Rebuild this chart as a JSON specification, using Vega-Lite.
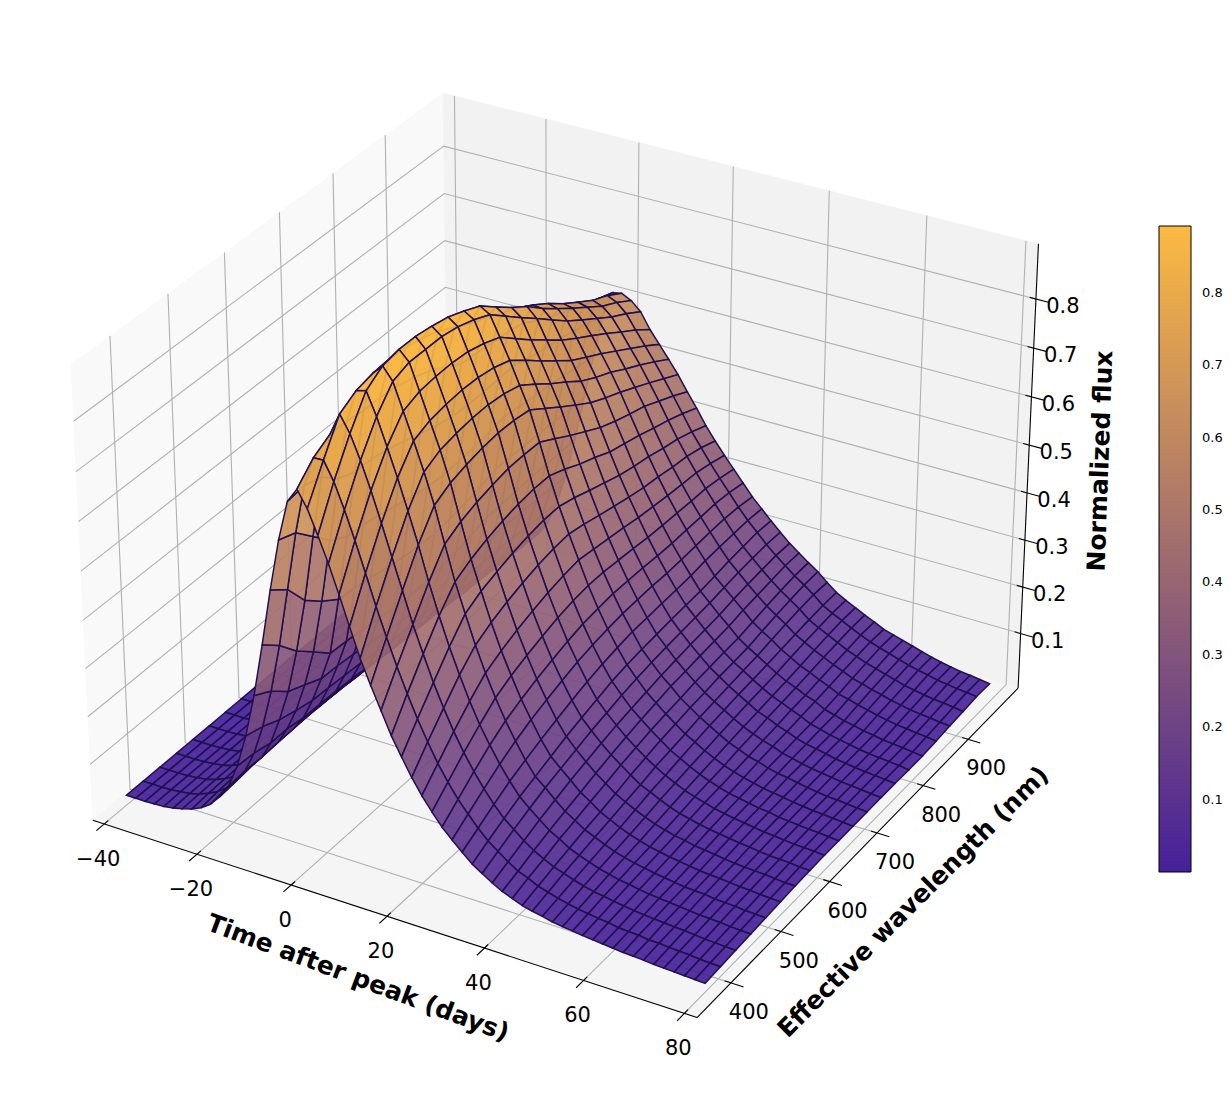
{
"$schema":"https://vega.github.io/schema/vega-lite/v6.json",
"width":1231,"height":1098,"padding":0,
"autosize":{"type":"fit","contains":"padding"},
"background":"white",
"config":{"view":{"stroke":null},"font":"DejaVu Sans"},
"datasets":{
"flux":[
{"t":-40,"374":0.002,"404":0.002,"434":0.002,"464":0.002,"494":0.002,"524":0.002,"554":0.002,"584":0.002,"614":0.002,"644":0.002,"674":0.002,"704":0.001,"734":0.001,"764":0.001,"794":0.001,"824":0.001,"854":0.001,"884":0.001,"914":0.001,"944":0.001,"974":0.001},
{"t":-37.97,"374":0.002,"404":0.002,"434":0.002,"464":0.002,"494":0.002,"524":0.002,"554":0.002,"584":0.002,"614":0.002,"644":0.002,"674":0.002,"704":0.001,"734":0.001,"764":0.001,"794":0.001,"824":0.001,"854":0.001,"884":0.001,"914":0.001,"944":0.001,"974":0.001},
{"t":-35.93,"374":0.002,"404":0.002,"434":0.002,"464":0.002,"494":0.002,"524":0.002,"554":0.002,"584":0.002,"614":0.002,"644":0.002,"674":0.002,"704":0.002,"734":0.002,"764":0.002,"794":0.002,"824":0.001,"854":0.001,"884":0.001,"914":0.001,"944":0.001,"974":0.001},
{"t":-33.9,"374":0.003,"404":0.003,"434":0.003,"464":0.003,"494":0.003,"524":0.003,"554":0.003,"584":0.003,"614":0.003,"644":0.003,"674":0.003,"704":0.002,"734":0.002,"764":0.002,"794":0.002,"824":0.002,"854":0.002,"884":0.002,"914":0.001,"944":0.001,"974":0.001},
{"t":-31.86,"374":0.004,"404":0.005,"434":0.005,"464":0.005,"494":0.005,"524":0.005,"554":0.005,"584":0.005,"614":0.005,"644":0.004,"674":0.004,"704":0.004,"734":0.004,"764":0.004,"794":0.004,"824":0.003,"854":0.003,"884":0.003,"914":0.003,"944":0.003,"974":0.002},
{"t":-29.83,"374":0.007,"404":0.008,"434":0.008,"464":0.008,"494":0.008,"524":0.008,"554":0.008,"584":0.007,"614":0.007,"644":0.007,"674":0.007,"704":0.006,"734":0.006,"764":0.006,"794":0.005,"824":0.005,"854":0.005,"884":0.004,"914":0.004,"944":0.004,"974":0.004},
{"t":-27.8,"374":0.012,"404":0.013,"434":0.014,"464":0.014,"494":0.014,"524":0.014,"554":0.013,"584":0.013,"614":0.012,"644":0.012,"674":0.011,"704":0.011,"734":0.01,"764":0.01,"794":0.009,"824":0.009,"854":0.008,"884":0.008,"914":0.007,"944":0.007,"974":0.006},
{"t":-25.76,"374":0.018,"404":0.021,"434":0.022,"464":0.023,"494":0.023,"524":0.023,"554":0.022,"584":0.021,"614":0.021,"644":0.02,"674":0.019,"704":0.018,"734":0.017,"764":0.016,"794":0.015,"824":0.015,"854":0.014,"884":0.013,"914":0.012,"944":0.011,"974":0.01},
{"t":-23.73,"374":0.027,"404":0.031,"434":0.033,"464":0.035,"494":0.036,"524":0.036,"554":0.035,"584":0.034,"614":0.033,"644":0.032,"674":0.031,"704":0.029,"734":0.028,"764":0.026,"794":0.025,"824":0.023,"854":0.022,"884":0.021,"914":0.02,"944":0.018,"974":0.017},
{"t":-21.69,"374":0.041,"404":0.046,"434":0.05,"464":0.053,"494":0.054,"524":0.055,"554":0.054,"584":0.053,"614":0.051,"644":0.05,"674":0.047,"704":0.045,"734":0.043,"764":0.041,"794":0.039,"824":0.037,"854":0.035,"884":0.033,"914":0.031,"944":0.029,"974":0.027},
{"t":-19.66,"374":0.063,"404":0.066,"434":0.07,"464":0.072,"494":0.073,"524":0.074,"554":0.073,"584":0.072,"614":0.07,"644":0.068,"674":0.065,"704":0.062,"734":0.061,"764":0.058,"794":0.056,"824":0.054,"854":0.051,"884":0.048,"914":0.046,"944":0.044,"974":0.042},
{"t":-17.63,"374":0.092,"404":0.095,"434":0.093,"464":0.095,"494":0.096,"524":0.097,"554":0.096,"584":0.094,"614":0.091,"644":0.089,"674":0.085,"704":0.083,"734":0.082,"764":0.081,"794":0.078,"824":0.074,"854":0.074,"884":0.072,"914":0.069,"944":0.065,"974":0.063},
{"t":-15.59,"374":0.141,"404":0.138,"434":0.13,"464":0.13,"494":0.124,"524":0.123,"554":0.121,"584":0.119,"614":0.115,"644":0.112,"674":0.11,"704":0.11,"734":0.11,"764":0.11,"794":0.11,"824":0.107,"854":0.105,"884":0.102,"914":0.099,"944":0.095,"974":0.092},
{"t":-13.56,"374":0.21,"404":0.2,"434":0.185,"464":0.175,"494":0.167,"524":0.165,"554":0.162,"584":0.159,"614":0.154,"644":0.149,"674":0.147,"704":0.147,"734":0.148,"764":0.15,"794":0.151,"824":0.151,"854":0.15,"884":0.148,"914":0.146,"944":0.143,"974":0.141},
{"t":-11.53,"374":0.3,"404":0.28,"434":0.25,"464":0.235,"494":0.219,"524":0.217,"554":0.213,"584":0.207,"614":0.202,"644":0.197,"674":0.195,"704":0.197,"734":0.2,"764":0.204,"794":0.21,"824":0.211,"854":0.211,"884":0.211,"914":0.21,"944":0.208,"974":0.206},
{"t":-9.49,"374":0.41,"404":0.38,"434":0.34,"464":0.31,"494":0.278,"524":0.275,"554":0.271,"584":0.265,"614":0.26,"644":0.258,"674":0.258,"704":0.262,"734":0.268,"764":0.276,"794":0.285,"824":0.287,"854":0.289,"884":0.291,"914":0.291,"944":0.292,"974":0.292},
{"t":-7.46,"374":0.527,"404":0.5,"434":0.45,"464":0.42,"494":0.396,"524":0.392,"554":0.386,"584":0.378,"614":0.372,"644":0.368,"674":0.366,"704":0.37,"734":0.376,"764":0.384,"794":0.394,"824":0.394,"854":0.393,"884":0.393,"914":0.391,"944":0.389,"974":0.387},
{"t":-5.42,"374":0.633,"404":0.62,"434":0.585,"464":0.55,"494":0.53,"524":0.527,"554":0.52,"584":0.511,"614":0.503,"644":0.497,"674":0.494,"704":0.496,"734":0.5,"764":0.505,"794":0.511,"824":0.506,"854":0.502,"884":0.499,"914":0.494,"944":0.488,"974":0.482},
{"t":-3.39,"374":0.715,"404":0.72,"434":0.71,"464":0.68,"494":0.667,"524":0.666,"554":0.659,"584":0.649,"614":0.638,"644":0.628,"674":0.62,"704":0.618,"734":0.618,"764":0.62,"794":0.622,"824":0.612,"854":0.605,"884":0.601,"914":0.592,"944":0.584,"974":0.574},
{"t":-1.36,"374":0.745,"404":0.78,"434":0.8,"464":0.8,"494":0.795,"524":0.795,"554":0.79,"584":0.782,"614":0.77,"644":0.753,"674":0.733,"704":0.73,"734":0.726,"764":0.722,"794":0.715,"824":0.695,"854":0.68,"884":0.665,"914":0.65,"944":0.64,"974":0.628},
{"t":0.68,"374":0.712,"404":0.781,"434":0.845,"464":0.865,"494":0.873,"524":0.876,"554":0.873,"584":0.866,"614":0.855,"644":0.838,"674":0.82,"704":0.806,"734":0.79,"764":0.776,"794":0.757,"824":0.735,"854":0.71,"884":0.688,"914":0.667,"944":0.652,"974":0.632},
{"t":2.71,"374":0.665,"404":0.744,"434":0.812,"464":0.87,"494":0.893,"524":0.9,"554":0.9,"584":0.895,"614":0.888,"644":0.875,"674":0.86,"704":0.833,"734":0.807,"764":0.784,"794":0.755,"824":0.73,"854":0.706,"884":0.683,"914":0.66,"944":0.643,"974":0.622},
{"t":4.75,"374":0.615,"404":0.694,"434":0.765,"464":0.825,"494":0.868,"524":0.88,"554":0.88,"584":0.88,"614":0.874,"644":0.863,"674":0.848,"704":0.82,"734":0.792,"764":0.765,"794":0.737,"824":0.71,"854":0.687,"884":0.665,"914":0.643,"944":0.625,"974":0.604},
{"t":6.78,"374":0.559,"404":0.639,"434":0.711,"464":0.771,"494":0.815,"524":0.828,"554":0.832,"584":0.833,"614":0.83,"644":0.821,"674":0.808,"704":0.78,"734":0.752,"764":0.727,"794":0.701,"824":0.68,"854":0.66,"884":0.639,"914":0.617,"944":0.596,"974":0.572},
{"t":8.81,"374":0.501,"404":0.58,"434":0.652,"464":0.715,"494":0.762,"524":0.776,"554":0.782,"584":0.785,"614":0.784,"644":0.778,"674":0.767,"704":0.742,"734":0.715,"764":0.69,"794":0.665,"824":0.646,"854":0.628,"884":0.608,"914":0.588,"944":0.568,"974":0.546},
{"t":10.85,"374":0.443,"404":0.519,"434":0.59,"464":0.655,"494":0.706,"524":0.723,"554":0.73,"584":0.734,"614":0.735,"644":0.731,"674":0.722,"704":0.699,"734":0.674,"764":0.652,"794":0.628,"824":0.61,"854":0.595,"884":0.576,"914":0.559,"944":0.54,"974":0.52},
{"t":12.88,"374":0.395,"404":0.463,"434":0.529,"464":0.593,"494":0.645,"524":0.663,"554":0.673,"584":0.68,"614":0.684,"644":0.683,"674":0.678,"704":0.655,"734":0.632,"764":0.61,"794":0.589,"824":0.573,"854":0.559,"884":0.543,"914":0.527,"944":0.51,"974":0.493},
{"t":14.92,"374":0.35,"404":0.41,"434":0.467,"464":0.524,"494":0.573,"524":0.591,"554":0.603,"584":0.611,"614":0.618,"644":0.619,"674":0.618,"704":0.599,"734":0.579,"764":0.561,"794":0.543,"824":0.53,"854":0.519,"884":0.509,"914":0.494,"944":0.479,"974":0.462},
{"t":16.95,"374":0.305,"404":0.361,"434":0.413,"464":0.462,"494":0.503,"524":0.521,"554":0.534,"584":0.544,"614":0.551,"644":0.555,"674":0.555,"704":0.542,"734":0.526,"764":0.513,"794":0.498,"824":0.489,"854":0.48,"884":0.469,"914":0.459,"944":0.447,"974":0.433},
{"t":18.98,"374":0.268,"404":0.316,"434":0.361,"464":0.405,"494":0.444,"524":0.462,"554":0.474,"584":0.484,"614":0.492,"644":0.497,"674":0.498,"704":0.489,"734":0.477,"764":0.466,"794":0.455,"824":0.447,"854":0.441,"884":0.432,"914":0.425,"944":0.414,"974":0.401},
{"t":21.02,"374":0.232,"404":0.275,"434":0.315,"464":0.354,"494":0.386,"524":0.404,"554":0.418,"584":0.429,"614":0.438,"644":0.444,"674":0.447,"704":0.44,"734":0.431,"764":0.423,"794":0.415,"824":0.408,"854":0.404,"884":0.398,"914":0.394,"944":0.386,"974":0.374},
{"t":23.05,"374":0.201,"404":0.237,"434":0.273,"464":0.306,"494":0.335,"524":0.352,"554":0.366,"584":0.377,"614":0.387,"644":0.394,"674":0.399,"704":0.394,"734":0.389,"764":0.384,"794":0.378,"824":0.374,"854":0.37,"884":0.367,"914":0.365,"944":0.358,"974":0.349},
{"t":25.08,"374":0.174,"404":0.205,"434":0.236,"464":0.264,"494":0.29,"524":0.307,"554":0.32,"584":0.331,"614":0.341,"644":0.348,"674":0.352,"704":0.352,"734":0.349,"764":0.346,"794":0.342,"824":0.34,"854":0.339,"884":0.337,"914":0.337,"944":0.332,"974":0.325},
{"t":27.12,"374":0.149,"404":0.176,"434":0.203,"464":0.228,"494":0.249,"524":0.264,"554":0.277,"584":0.288,"614":0.298,"644":0.306,"674":0.31,"704":0.313,"734":0.312,"764":0.311,"794":0.309,"824":0.308,"854":0.309,"884":0.309,"914":0.31,"944":0.307,"974":0.301},
{"t":29.15,"374":0.129,"404":0.152,"434":0.174,"464":0.195,"494":0.213,"524":0.228,"554":0.24,"584":0.251,"614":0.261,"644":0.268,"674":0.273,"704":0.277,"734":0.278,"764":0.279,"794":0.278,"824":0.279,"854":0.281,"884":0.283,"914":0.284,"944":0.282,"974":0.277},
{"t":31.19,"374":0.11,"404":0.129,"434":0.148,"464":0.166,"494":0.18,"524":0.193,"554":0.205,"584":0.216,"614":0.226,"644":0.234,"674":0.24,"704":0.245,"734":0.246,"764":0.248,"794":0.249,"824":0.251,"854":0.255,"884":0.257,"914":0.258,"944":0.259,"974":0.257},
{"t":33.22,"374":0.092,"404":0.109,"434":0.125,"464":0.14,"494":0.152,"524":0.164,"554":0.176,"584":0.186,"614":0.195,"644":0.204,"674":0.21,"704":0.214,"734":0.217,"764":0.22,"794":0.222,"824":0.224,"854":0.228,"884":0.233,"914":0.236,"944":0.239,"974":0.237},
{"t":35.25,"374":0.079,"404":0.094,"434":0.109,"464":0.122,"494":0.135,"524":0.145,"554":0.155,"584":0.165,"614":0.173,"644":0.181,"674":0.187,"704":0.192,"734":0.196,"764":0.199,"794":0.202,"824":0.205,"854":0.21,"884":0.214,"914":0.217,"944":0.219,"974":0.218},
{"t":37.29,"374":0.066,"404":0.079,"434":0.092,"464":0.105,"494":0.116,"524":0.127,"554":0.136,"584":0.145,"614":0.153,"644":0.159,"674":0.165,"704":0.171,"734":0.175,"764":0.179,"794":0.182,"824":0.185,"854":0.191,"884":0.195,"914":0.198,"944":0.201,"974":0.2},
{"t":39.32,"374":0.055,"404":0.066,"434":0.078,"464":0.089,"494":0.099,"524":0.108,"554":0.118,"584":0.127,"614":0.135,"644":0.142,"674":0.148,"704":0.154,"734":0.157,"764":0.161,"794":0.164,"824":0.167,"854":0.173,"884":0.177,"914":0.181,"944":0.185,"974":0.185},
{"t":41.36,"374":0.047,"404":0.058,"434":0.067,"464":0.078,"494":0.086,"524":0.095,"554":0.103,"584":0.112,"614":0.119,"644":0.126,"674":0.131,"704":0.135,"734":0.14,"764":0.143,"794":0.146,"824":0.148,"854":0.154,"884":0.16,"914":0.165,"944":0.169,"974":0.17},
{"t":43.39,"374":0.039,"404":0.048,"434":0.057,"464":0.065,"494":0.073,"524":0.08,"554":0.088,"584":0.097,"614":0.104,"644":0.111,"674":0.116,"704":0.121,"734":0.124,"764":0.129,"794":0.131,"824":0.134,"854":0.14,"884":0.146,"914":0.151,"944":0.155,"974":0.156},
{"t":45.42,"374":0.034,"404":0.042,"434":0.05,"464":0.057,"494":0.064,"524":0.07,"554":0.077,"584":0.083,"614":0.091,"644":0.096,"674":0.101,"704":0.107,"734":0.111,"764":0.115,"794":0.119,"824":0.122,"854":0.128,"884":0.133,"914":0.137,"944":0.14,"974":0.139},
{"t":47.46,"374":0.03,"404":0.036,"434":0.043,"464":0.049,"494":0.055,"524":0.06,"554":0.067,"584":0.074,"614":0.079,"644":0.085,"674":0.09,"704":0.095,"734":0.099,"764":0.103,"794":0.106,"824":0.109,"854":0.113,"884":0.117,"914":0.12,"944":0.123,"974":0.123},
{"t":49.49,"374":0.025,"404":0.031,"434":0.037,"464":0.042,"494":0.047,"524":0.052,"554":0.058,"584":0.064,"614":0.069,"644":0.074,"674":0.078,"704":0.083,"734":0.087,"764":0.091,"794":0.094,"824":0.097,"854":0.102,"884":0.106,"914":0.109,"944":0.112,"974":0.112},
{"t":51.53,"374":0.022,"404":0.027,"434":0.032,"464":0.037,"494":0.041,"524":0.045,"554":0.05,"584":0.055,"614":0.06,"644":0.064,"674":0.068,"704":0.072,"734":0.076,"764":0.079,"794":0.083,"824":0.086,"854":0.09,"884":0.095,"914":0.099,"944":0.102,"974":0.102},
{"t":53.56,"374":0.02,"404":0.024,"434":0.029,"464":0.032,"494":0.036,"524":0.039,"554":0.044,"584":0.048,"614":0.053,"644":0.056,"674":0.059,"704":0.064,"734":0.067,"764":0.072,"794":0.075,"824":0.078,"854":0.082,"884":0.086,"914":0.089,"944":0.092,"974":0.092},
{"t":55.59,"374":0.017,"404":0.021,"434":0.025,"464":0.029,"494":0.032,"524":0.035,"554":0.038,"584":0.043,"614":0.047,"644":0.049,"674":0.052,"704":0.055,"734":0.059,"764":0.062,"794":0.066,"824":0.068,"854":0.072,"884":0.076,"914":0.079,"944":0.083,"974":0.083},
{"t":57.63,"374":0.015,"404":0.019,"434":0.022,"464":0.025,"494":0.028,"524":0.031,"554":0.035,"584":0.038,"614":0.041,"644":0.043,"674":0.046,"704":0.05,"734":0.053,"764":0.055,"794":0.058,"824":0.061,"854":0.064,"884":0.068,"914":0.071,"944":0.074,"974":0.073},
{"t":59.66,"374":0.013,"404":0.015,"434":0.019,"464":0.022,"494":0.025,"524":0.028,"554":0.03,"584":0.034,"614":0.037,"644":0.039,"674":0.041,"704":0.043,"734":0.045,"764":0.047,"794":0.048,"824":0.05,"854":0.054,"884":0.059,"914":0.063,"944":0.067,"974":0.067},
{"t":61.69,"374":0.011,"404":0.014,"434":0.017,"464":0.02,"494":0.022,"524":0.025,"554":0.028,"584":0.031,"614":0.033,"644":0.035,"674":0.036,"704":0.038,"734":0.04,"764":0.041,"794":0.043,"824":0.044,"854":0.049,"884":0.053,"914":0.057,"944":0.061,"974":0.061},
{"t":63.73,"374":0.009,"404":0.013,"434":0.015,"464":0.018,"494":0.019,"524":0.022,"554":0.025,"584":0.028,"614":0.03,"644":0.031,"674":0.033,"704":0.035,"734":0.035,"764":0.037,"794":0.037,"824":0.038,"854":0.043,"884":0.047,"914":0.051,"944":0.054,"974":0.055},
{"t":65.76,"374":0.008,"404":0.01,"434":0.014,"464":0.016,"494":0.018,"524":0.02,"554":0.022,"584":0.025,"614":0.027,"644":0.029,"674":0.03,"704":0.031,"734":0.031,"764":0.033,"794":0.033,"824":0.034,"854":0.038,"884":0.042,"914":0.045,"944":0.048,"974":0.049},
{"t":67.8,"374":0.007,"404":0.01,"434":0.012,"464":0.014,"494":0.017,"524":0.019,"554":0.02,"584":0.023,"614":0.024,"644":0.025,"674":0.026,"704":0.027,"734":0.028,"764":0.028,"794":0.029,"824":0.029,"854":0.033,"884":0.036,"914":0.039,"944":0.043,"974":0.043},
{"t":69.83,"374":0.005,"404":0.008,"434":0.011,"464":0.012,"494":0.014,"524":0.017,"554":0.018,"584":0.02,"614":0.022,"644":0.023,"674":0.024,"704":0.024,"734":0.025,"764":0.025,"794":0.025,"824":0.026,"854":0.029,"884":0.032,"914":0.035,"944":0.039,"974":0.038},
{"t":71.86,"374":0.004,"404":0.007,"434":0.009,"464":0.011,"494":0.013,"524":0.015,"554":0.017,"584":0.018,"614":0.02,"644":0.021,"674":0.021,"704":0.021,"734":0.022,"764":0.022,"794":0.022,"824":0.022,"854":0.025,"884":0.028,"914":0.031,"944":0.034,"974":0.034},
{"t":73.9,"374":0.003,"404":0.006,"434":0.007,"464":0.01,"494":0.012,"524":0.014,"554":0.016,"584":0.017,"614":0.018,"644":0.019,"674":0.02,"704":0.02,"734":0.02,"764":0.02,"794":0.02,"824":0.02,"854":0.023,"884":0.025,"914":0.028,"944":0.031,"974":0.03},
{"t":75.93,"374":0.002,"404":0.004,"434":0.006,"464":0.008,"494":0.01,"524":0.012,"554":0.014,"584":0.016,"614":0.017,"644":0.018,"674":0.018,"704":0.018,"734":0.018,"764":0.018,"794":0.018,"824":0.018,"854":0.02,"884":0.023,"914":0.026,"944":0.028,"974":0.028},
{"t":77.97,"374":0.001,"404":0.003,"434":0.005,"464":0.007,"494":0.009,"524":0.011,"554":0.012,"584":0.014,"614":0.016,"644":0.016,"674":0.016,"704":0.016,"734":0.016,"764":0.016,"794":0.016,"824":0.015,"854":0.018,"884":0.02,"914":0.023,"944":0.026,"974":0.025},
{"t":80,"374":0,"404":0.002,"434":0.004,"464":0.006,"494":0.008,"524":0.01,"554":0.012,"584":0.013,"614":0.014,"644":0.014,"674":0.014,"704":0.014,"734":0.014,"764":0.014,"794":0.013,"824":0.013,"854":0.015,"884":0.018,"914":0.02,"944":0.023,"974":0.022}
],
"frame":[
{"k":"paneX","o":0,"t":-42.5,"w":334,"z":-0.0186},{"k":"paneX","o":1,"t":-42.5,"w":1014,"z":-0.0186},{"k":"paneX","o":2,"t":-42.5,"w":1014,"z":0.911},{"k":"paneX","o":3,"t":-42.5,"w":334,"z":0.911},
{"k":"paneY","o":0,"t":-42.5,"w":1014,"z":-0.0186},{"k":"paneY","o":1,"t":82.5,"w":1014,"z":-0.0186},{"k":"paneY","o":2,"t":82.5,"w":1014,"z":0.911},{"k":"paneY","o":3,"t":-42.5,"w":1014,"z":0.911},
{"k":"paneZ","o":0,"t":-42.5,"w":334,"z":-0.0186},{"k":"paneZ","o":1,"t":82.5,"w":334,"z":-0.0186},{"k":"paneZ","o":2,"t":82.5,"w":1014,"z":-0.0186},{"k":"paneZ","o":3,"t":-42.5,"w":1014,"z":-0.0186},
{"k":"grid","g":"t1","o":0,"t":-40,"w":1014,"z":0.911},{"k":"grid","g":"t1","o":1,"t":-40,"w":1014,"z":-0.0186},{"k":"grid","g":"t1","o":2,"t":-40,"w":334,"z":-0.0186},
{"k":"grid","g":"t2","o":0,"t":-20,"w":1014,"z":0.911},{"k":"grid","g":"t2","o":1,"t":-20,"w":1014,"z":-0.0186},{"k":"grid","g":"t2","o":2,"t":-20,"w":334,"z":-0.0186},
{"k":"grid","g":"t3","o":0,"t":0,"w":1014,"z":0.911},{"k":"grid","g":"t3","o":1,"t":0,"w":1014,"z":-0.0186},{"k":"grid","g":"t3","o":2,"t":0,"w":334,"z":-0.0186},
{"k":"grid","g":"t4","o":0,"t":20,"w":1014,"z":0.911},{"k":"grid","g":"t4","o":1,"t":20,"w":1014,"z":-0.0186},{"k":"grid","g":"t4","o":2,"t":20,"w":334,"z":-0.0186},
{"k":"grid","g":"t5","o":0,"t":40,"w":1014,"z":0.911},{"k":"grid","g":"t5","o":1,"t":40,"w":1014,"z":-0.0186},{"k":"grid","g":"t5","o":2,"t":40,"w":334,"z":-0.0186},
{"k":"grid","g":"t6","o":0,"t":60,"w":1014,"z":0.911},{"k":"grid","g":"t6","o":1,"t":60,"w":1014,"z":-0.0186},{"k":"grid","g":"t6","o":2,"t":60,"w":334,"z":-0.0186},
{"k":"grid","g":"t7","o":0,"t":80,"w":1014,"z":0.911},{"k":"grid","g":"t7","o":1,"t":80,"w":1014,"z":-0.0186},{"k":"grid","g":"t7","o":2,"t":80,"w":334,"z":-0.0186},
{"k":"grid","g":"w1","o":0,"t":-42.5,"w":400,"z":0.911},{"k":"grid","g":"w1","o":1,"t":-42.5,"w":400,"z":-0.0186},{"k":"grid","g":"w1","o":2,"t":82.5,"w":400,"z":-0.0186},
{"k":"grid","g":"w2","o":0,"t":-42.5,"w":500,"z":0.911},{"k":"grid","g":"w2","o":1,"t":-42.5,"w":500,"z":-0.0186},{"k":"grid","g":"w2","o":2,"t":82.5,"w":500,"z":-0.0186},
{"k":"grid","g":"w3","o":0,"t":-42.5,"w":600,"z":0.911},{"k":"grid","g":"w3","o":1,"t":-42.5,"w":600,"z":-0.0186},{"k":"grid","g":"w3","o":2,"t":82.5,"w":600,"z":-0.0186},
{"k":"grid","g":"w4","o":0,"t":-42.5,"w":700,"z":0.911},{"k":"grid","g":"w4","o":1,"t":-42.5,"w":700,"z":-0.0186},{"k":"grid","g":"w4","o":2,"t":82.5,"w":700,"z":-0.0186},
{"k":"grid","g":"w5","o":0,"t":-42.5,"w":800,"z":0.911},{"k":"grid","g":"w5","o":1,"t":-42.5,"w":800,"z":-0.0186},{"k":"grid","g":"w5","o":2,"t":82.5,"w":800,"z":-0.0186},
{"k":"grid","g":"w6","o":0,"t":-42.5,"w":900,"z":0.911},{"k":"grid","g":"w6","o":1,"t":-42.5,"w":900,"z":-0.0186},{"k":"grid","g":"w6","o":2,"t":82.5,"w":900,"z":-0.0186},
{"k":"grid","g":"z1","o":0,"t":-42.5,"w":334,"z":0.1},{"k":"grid","g":"z1","o":1,"t":-42.5,"w":1014,"z":0.1},{"k":"grid","g":"z1","o":2,"t":82.5,"w":1014,"z":0.1},
{"k":"grid","g":"z2","o":0,"t":-42.5,"w":334,"z":0.2},{"k":"grid","g":"z2","o":1,"t":-42.5,"w":1014,"z":0.2},{"k":"grid","g":"z2","o":2,"t":82.5,"w":1014,"z":0.2},
{"k":"grid","g":"z3","o":0,"t":-42.5,"w":334,"z":0.3},{"k":"grid","g":"z3","o":1,"t":-42.5,"w":1014,"z":0.3},{"k":"grid","g":"z3","o":2,"t":82.5,"w":1014,"z":0.3},
{"k":"grid","g":"z4","o":0,"t":-42.5,"w":334,"z":0.4},{"k":"grid","g":"z4","o":1,"t":-42.5,"w":1014,"z":0.4},{"k":"grid","g":"z4","o":2,"t":82.5,"w":1014,"z":0.4},
{"k":"grid","g":"z5","o":0,"t":-42.5,"w":334,"z":0.5},{"k":"grid","g":"z5","o":1,"t":-42.5,"w":1014,"z":0.5},{"k":"grid","g":"z5","o":2,"t":82.5,"w":1014,"z":0.5},
{"k":"grid","g":"z6","o":0,"t":-42.5,"w":334,"z":0.6},{"k":"grid","g":"z6","o":1,"t":-42.5,"w":1014,"z":0.6},{"k":"grid","g":"z6","o":2,"t":82.5,"w":1014,"z":0.6},
{"k":"grid","g":"z7","o":0,"t":-42.5,"w":334,"z":0.7},{"k":"grid","g":"z7","o":1,"t":-42.5,"w":1014,"z":0.7},{"k":"grid","g":"z7","o":2,"t":82.5,"w":1014,"z":0.7},
{"k":"grid","g":"z8","o":0,"t":-42.5,"w":334,"z":0.8},{"k":"grid","g":"z8","o":1,"t":-42.5,"w":1014,"z":0.8},{"k":"grid","g":"z8","o":2,"t":82.5,"w":1014,"z":0.8},
{"k":"axis","g":"at","o":0,"t":-42.5,"w":334,"z":-0.0186},{"k":"axis","g":"at","o":1,"t":82.5,"w":334,"z":-0.0186},
{"k":"axis","g":"aw","o":0,"t":82.5,"w":334,"z":-0.0186},{"k":"axis","g":"aw","o":1,"t":82.5,"w":1014,"z":-0.0186},
{"k":"axis","g":"az","o":0,"t":82.5,"w":1014,"z":-0.0186},{"k":"axis","g":"az","o":1,"t":82.5,"w":1014,"z":0.911},
{"k":"axis","g":"t1","o":0,"t":-40,"w":320,"z":-0.0186},{"k":"axis","g":"t1","o":1,"t":-40,"w":341,"z":-0.0186},
{"k":"axis","g":"t2","o":0,"t":-20,"w":320,"z":-0.0186},{"k":"axis","g":"t2","o":1,"t":-20,"w":341,"z":-0.0186},
{"k":"axis","g":"t3","o":0,"t":0,"w":320,"z":-0.0186},{"k":"axis","g":"t3","o":1,"t":0,"w":341,"z":-0.0186},
{"k":"axis","g":"t4","o":0,"t":20,"w":320,"z":-0.0186},{"k":"axis","g":"t4","o":1,"t":20,"w":341,"z":-0.0186},
{"k":"axis","g":"t5","o":0,"t":40,"w":320,"z":-0.0186},{"k":"axis","g":"t5","o":1,"t":40,"w":341,"z":-0.0186},
{"k":"axis","g":"t6","o":0,"t":60,"w":320,"z":-0.0186},{"k":"axis","g":"t6","o":1,"t":60,"w":341,"z":-0.0186},
{"k":"axis","g":"t7","o":0,"t":80,"w":320,"z":-0.0186},{"k":"axis","g":"t7","o":1,"t":80,"w":341,"z":-0.0186},
{"k":"axis","g":"w1","o":0,"t":81.25,"w":400,"z":-0.0186},{"k":"axis","g":"w1","o":1,"t":85,"w":400,"z":-0.0186},
{"k":"axis","g":"w2","o":0,"t":81.25,"w":500,"z":-0.0186},{"k":"axis","g":"w2","o":1,"t":85,"w":500,"z":-0.0186},
{"k":"axis","g":"w3","o":0,"t":81.25,"w":600,"z":-0.0186},{"k":"axis","g":"w3","o":1,"t":85,"w":600,"z":-0.0186},
{"k":"axis","g":"w4","o":0,"t":81.25,"w":700,"z":-0.0186},{"k":"axis","g":"w4","o":1,"t":85,"w":700,"z":-0.0186},
{"k":"axis","g":"w5","o":0,"t":81.25,"w":800,"z":-0.0186},{"k":"axis","g":"w5","o":1,"t":85,"w":800,"z":-0.0186},
{"k":"axis","g":"w6","o":0,"t":81.25,"w":900,"z":-0.0186},{"k":"axis","g":"w6","o":1,"t":85,"w":900,"z":-0.0186},
{"k":"axis","g":"z1","o":0,"t":81.25,"w":1014,"z":0.1},{"k":"axis","g":"z1","o":1,"t":85,"w":1014,"z":0.1},
{"k":"axis","g":"z2","o":0,"t":81.25,"w":1014,"z":0.2},{"k":"axis","g":"z2","o":1,"t":85,"w":1014,"z":0.2},
{"k":"axis","g":"z3","o":0,"t":81.25,"w":1014,"z":0.3},{"k":"axis","g":"z3","o":1,"t":85,"w":1014,"z":0.3},
{"k":"axis","g":"z4","o":0,"t":81.25,"w":1014,"z":0.4},{"k":"axis","g":"z4","o":1,"t":85,"w":1014,"z":0.4},
{"k":"axis","g":"z5","o":0,"t":81.25,"w":1014,"z":0.5},{"k":"axis","g":"z5","o":1,"t":85,"w":1014,"z":0.5},
{"k":"axis","g":"z6","o":0,"t":81.25,"w":1014,"z":0.6},{"k":"axis","g":"z6","o":1,"t":85,"w":1014,"z":0.6},
{"k":"axis","g":"z7","o":0,"t":81.25,"w":1014,"z":0.7},{"k":"axis","g":"z7","o":1,"t":85,"w":1014,"z":0.7},
{"k":"axis","g":"z8","o":0,"t":81.25,"w":1014,"z":0.8},{"k":"axis","g":"z8","o":1,"t":85,"w":1014,"z":0.8},
{"k":"tlab","lab":"−40","t":-40,"w":334,"z":-0.0186},{"k":"tlab","lab":"−20","t":-20,"w":334,"z":-0.0186},{"k":"tlab","lab":"0","t":0,"w":334,"z":-0.0186},{"k":"tlab","lab":"20","t":20,"w":334,"z":-0.0186},{"k":"tlab","lab":"40","t":40,"w":334,"z":-0.0186},{"k":"tlab","lab":"60","t":60,"w":334,"z":-0.0186},{"k":"tlab","lab":"80","t":80,"w":334,"z":-0.0186},
{"k":"wlab","lab":"400","t":82.5,"w":400,"z":-0.0186},{"k":"wlab","lab":"500","t":82.5,"w":500,"z":-0.0186},{"k":"wlab","lab":"600","t":82.5,"w":600,"z":-0.0186},{"k":"wlab","lab":"700","t":82.5,"w":700,"z":-0.0186},{"k":"wlab","lab":"800","t":82.5,"w":800,"z":-0.0186},{"k":"wlab","lab":"900","t":82.5,"w":900,"z":-0.0186},
{"k":"zlab","lab":"0.1","t":82.5,"w":1014,"z":0.1},{"k":"zlab","lab":"0.2","t":82.5,"w":1014,"z":0.2},{"k":"zlab","lab":"0.3","t":82.5,"w":1014,"z":0.3},{"k":"zlab","lab":"0.4","t":82.5,"w":1014,"z":0.4},{"k":"zlab","lab":"0.5","t":82.5,"w":1014,"z":0.5},{"k":"zlab","lab":"0.6","t":82.5,"w":1014,"z":0.6},{"k":"zlab","lab":"0.7","t":82.5,"w":1014,"z":0.7},{"k":"zlab","lab":"0.8","t":82.5,"w":1014,"z":0.8},
{"k":"ttitle","lab":"Time after peak (days)","t":20,"w":334,"z":-0.0186},
{"k":"wtitle","lab":"Effective wavelength (nm)","t":82.5,"w":650,"z":-0.0186},
{"k":"ztitle","lab":"Normalized flux","t":82.5,"w":1014,"z":0.45}
]
},
"encoding":{
"x":{"field":"sx","type":"quantitative","axis":null,"scale":{"domain":[0,1231],"nice":false,"zero":false}},
"y":{"field":"sy","type":"quantitative","axis":null,"scale":{"domain":[1098,0],"nice":false,"zero":false}}
},
"layer":[
{
"data":{"name":"frame"},
"transform":[
{"calculate":"1.1905*((datum.t+42.5)/125-0.5)","as":"px"},
{"calculate":"1.1905*((datum.w-334)/680-0.5)","as":"py"},
{"calculate":"0.8929*((datum.z+0.0186)/0.9296-0.5)","as":"pz"},
{"calculate":"10-(0.433*datum.px-0.75*datum.py+0.5*datum.pz)","as":"d"},
{"calculate":"564+5815*(0.866*datum.px+0.5*datum.py)/datum.d","as":"sx"},
{"calculate":"533-5815*(-0.25*datum.px+0.433*datum.py+0.866*datum.pz)/datum.d","as":"sy"}
],
"layer":[
{"transform":[{"filter":"datum.k=='paneX'"}],"mark":{"type":"line","interpolate":"linear-closed","fill":"#f9f9f9","stroke":"#f9f9f9","strokeWidth":0.5},"encoding":{"order":{"field":"o","type":"quantitative"}}},
{"transform":[{"filter":"datum.k=='paneY'"}],"mark":{"type":"line","interpolate":"linear-closed","fill":"#f2f2f2","stroke":"#f2f2f2","strokeWidth":0.5},"encoding":{"order":{"field":"o","type":"quantitative"}}},
{"transform":[{"filter":"datum.k=='paneZ'"}],"mark":{"type":"line","interpolate":"linear-closed","fill":"#f5f5f5","stroke":"#f5f5f5","strokeWidth":0.5},"encoding":{"order":{"field":"o","type":"quantitative"}}},
{"transform":[{"filter":"datum.k=='grid'"}],"mark":{"type":"line","stroke":"#b0b0b0","strokeWidth":1.1},"encoding":{"detail":{"field":"g"},"order":{"field":"o","type":"quantitative"}}},
{"transform":[{"filter":"datum.k=='axis'"}],"mark":{"type":"line","stroke":"#000000","strokeWidth":1.1},"encoding":{"detail":{"field":"g"},"order":{"field":"o","type":"quantitative"}}},
{"transform":[{"filter":"datum.k=='tlab'"}],"mark":{"type":"text","fontSize":21,"color":"#000000","dx":-6,"dy":36,"align":"center","baseline":"middle"},"encoding":{"text":{"field":"lab"}}},
{"transform":[{"filter":"datum.k=='wlab'"}],"mark":{"type":"text","fontSize":21,"color":"#000000","dx":18,"dy":30,"align":"center","baseline":"middle"},"encoding":{"text":{"field":"lab"}}},
{"transform":[{"filter":"datum.k=='zlab'"}],"mark":{"type":"text","fontSize":21,"color":"#000000","dx":27,"dy":8,"align":"center","baseline":"middle"},"encoding":{"text":{"field":"lab"}}},
{"transform":[{"filter":"datum.k=='ttitle'"}],"mark":{"type":"text","fontSize":25,"fontWeight":"bold","color":"#000000","angle":20.5,"dx":-5.5,"dy":68,"align":"center","baseline":"middle"},"encoding":{"text":{"field":"lab"}}},
{"transform":[{"filter":"datum.k=='wtitle'"}],"mark":{"type":"text","fontSize":25,"fontWeight":"bold","color":"#000000","angle":-45,"dx":10.6,"dy":74,"align":"center","baseline":"middle"},"encoding":{"text":{"field":"lab"}}},
{"transform":[{"filter":"datum.k=='ztitle'"}],"mark":{"type":"text","fontSize":25,"fontWeight":"bold","color":"#000000","angle":-88,"dx":10.5,"dy":72,"align":"center","baseline":"middle"},"encoding":{"text":{"field":"lab"}}}
]
},
{
"data":{"name":"flux"},
"transform":[
{"fold":["974","944","914","884","854","824","794","764","734","704","674","644","614","584","554","524","494","464","434","404","374"]},
{"calculate":"toNumber(datum.key)","as":"w"},
{"calculate":"datum.value","as":"z"},
{"window":[{"op":"dense_rank","as":"i"}],"sort":[{"field":"t","order":"ascending"}]},
{"window":[{"op":"dense_rank","as":"j"}],"sort":[{"field":"w","order":"descending"}]},
{"calculate":"[0,1,2,3]","as":"c"},
{"flatten":["c"]},
{"calculate":"datum.i-((datum.c==1||datum.c==2)?1:0)","as":"a"},
{"calculate":"datum.j-(datum.c>=2?1:0)","as":"b"},
{"filter":"datum.a>=1&&datum.b>=1&&datum.a<60&&datum.b<21"},
{"calculate":"datum.a*100+datum.b","as":"cell"},
{"joinaggregate":[{"op":"mean","field":"z","as":"level"}],"groupby":["cell"]},
{"calculate":"1.1905*((datum.t+42.5)/125-0.5)","as":"px"},
{"calculate":"1.1905*((datum.w-334)/680-0.5)","as":"py"},
{"calculate":"0.8929*((datum.z+0.0186)/0.9296-0.5)","as":"pz"},
{"calculate":"10-(0.433*datum.px-0.75*datum.py+0.5*datum.pz)","as":"d"},
{"calculate":"564+5815*(0.866*datum.px+0.5*datum.py)/datum.d","as":"sx"},
{"calculate":"533-5815*(-0.25*datum.px+0.433*datum.py+0.866*datum.pz)/datum.d","as":"sy"}
],
"mark":{"type":"line","interpolate":"linear-closed","stroke":"#21104f","strokeWidth":1.5,"fillOpacity":0.92},
"encoding":{
"detail":{"field":"cell","type":"nominal"},
"order":{"field":"c","type":"quantitative"},
"fill":{"field":"level","type":"quantitative",
"scale":{"domain":[0,0.8925],"range":["#45209a","#fcba42"],"interpolate":"rgb","nice":false,"zero":false,"clamp":true},
"legend":{"type":"gradient","orient":"none","legendX":1159,"legendY":226,"direction":"vertical","title":null,"gradientLength":646,"gradientThickness":32,"gradientStrokeColor":"#000000","gradientStrokeWidth":1,"values":[0.1,0.2,0.3,0.4,0.5,0.6,0.7,0.8],"format":".1f","labelFontSize":13,"labelFont":"DejaVu Sans","labelColor":"#000000","labelOffset":11,"labelOverlap":false}}
}
},
{
"data":{"values":[{"v":0.1},{"v":0.2},{"v":0.3},{"v":0.4},{"v":0.5},{"v":0.6},{"v":0.7},{"v":0.8}]},
"transform":[{"calculate":"226+(0.8925-datum.v)/0.8925*646","as":"sy"}],
"mark":{"type":"rule","color":"#000000","strokeWidth":1},
"encoding":{"x":{"datum":1191},"x2":{"datum":1196}}
}
]
}
